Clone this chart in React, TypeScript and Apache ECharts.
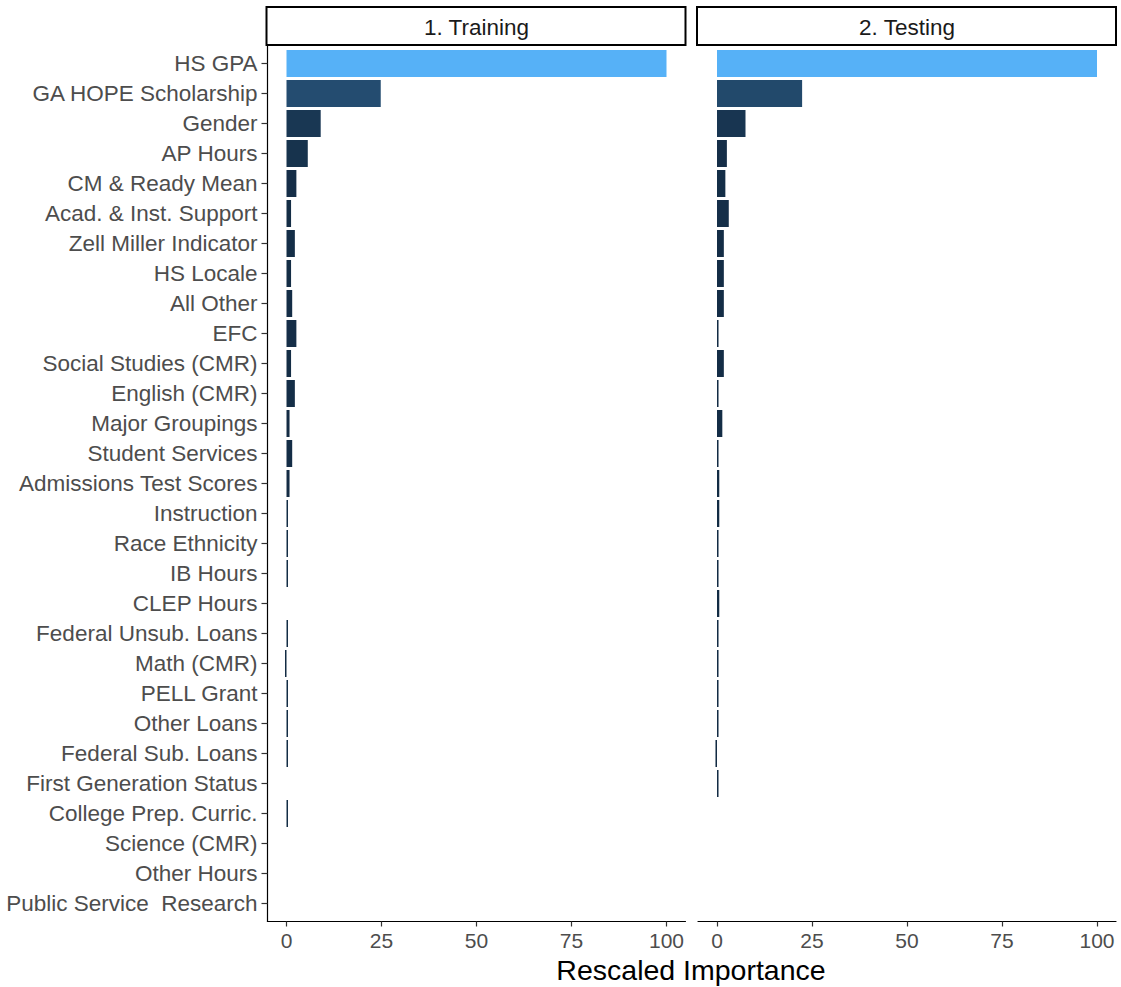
import React, { useEffect, useRef } from "react";
import * as echarts from "echarts";

const categories: string[] = [
  "HS GPA",
  "GA HOPE Scholarship",
  "Gender",
  "AP Hours",
  "CM & Ready Mean",
  "Acad. & Inst. Support",
  "Zell Miller Indicator",
  "HS Locale",
  "All Other",
  "EFC",
  "Social Studies (CMR)",
  "English (CMR)",
  "Major Groupings",
  "Student Services",
  "Admissions Test Scores",
  "Instruction",
  "Race Ethnicity",
  "IB Hours",
  "CLEP Hours",
  "Federal Unsub. Loans",
  "Math (CMR)",
  "PELL Grant",
  "Other Loans",
  "Federal Sub. Loans",
  "First Generation Status",
  "College Prep. Curric.",
  "Science (CMR)",
  "Other Hours",
  "Public Service  Research",
];

const trainingValues: number[] = [
  100, 24.8, 9.0, 5.6, 2.6, 1.2, 2.2, 1.2, 1.5, 2.6, 1.2, 2.2, 0.8, 1.5, 0.8,
  0.4, 0.4, 0.4, 0, 0.4, -0.4, 0.4, 0.4, 0.4, 0, 0.4, 0, 0, 0,
];

const testingValues: number[] = [
  100, 22.4, 7.5, 2.6, 2.2, 3.1, 1.8, 1.8, 1.8, 0.4, 1.8, 0.4, 1.4, 0.4, 0.6,
  0.6, 0.4, 0.4, 0.6, 0.4, 0.4, 0.4, 0.4, -0.4, 0.4, 0, 0, 0, 0,
];

const panelTitles: string[] = ["1. Training", "2. Testing"];
const xTicks: number[] = [0, 25, 50, 75, 100];
const xTitle = "Rescaled Importance";

const LOW = [0x13, 0x2b, 0x43];
const HIGH = [0x56, 0xb1, 0xf7];
function gradColor(v: number): string {
  const t = Math.max(0, Math.min(1, v / 100));
  const c = LOW.map((l, i) => Math.round(l + (HIGH[i] - l) * t));
  return `rgb(${c[0]},${c[1]},${c[2]})`;
}

const FONT = "'Liberation Sans', Arial, sans-serif";

export default function App() {
  const ref = useRef<HTMLDivElement>(null);

  useEffect(() => {
    if (!ref.current) return;
    const chart = echarts.init(ref.current, undefined, { renderer: "svg" });

    const panelTop = 45.5;
    const panelBottom = 921.5;
    const grids = [
      { left: 267.5, top: 48.5, width: 418, height: 870 },
      { left: 698, top: 48.5, width: 418, height: 870 },
    ];

    const xAxes = grids.map((_, i) => ({
      type: "value",
      gridIndex: i,
      min: -5,
      max: 105,
      offset: 3,
      splitLine: { show: false },
      axisLine: {
        show: true,
        onZero: false,
        lineStyle: { color: "#000", width: 1.2 },
      },
      axisTick: {
        show: true,
        length: 5,
        customValues: xTicks,
        lineStyle: { color: "#333", width: 1.2 },
      },
      axisLabel: {
        customValues: xTicks,
        fontSize: 21,
        color: "#4D4D4D",
        fontFamily: FONT,
        margin: 8,
      },
    }));

    const yAxes = grids.map((_, i) => ({
      type: "category",
      gridIndex: i,
      data: categories,
      inverse: true,
      axisLine: { show: false, onZero: false },
      axisTick: {
        show: i === 0,
        alignWithLabel: true,
        length: 6,
        lineStyle: { color: "#333", width: 1.2 },
      },
      axisLabel: {
        show: i === 0,
        fontSize: 22.5,
        color: "#4D4D4D",
        fontFamily: FONT,
        margin: 10,
      },
      splitLine: { show: false },
    }));

    const mkSeries = (vals: number[], i: number) => ({
      type: "bar",
      xAxisIndex: i,
      yAxisIndex: i,
      barWidth: "90%",
      data: vals.map((v) => ({ value: v, itemStyle: { color: gradColor(v) } })),
    });

    const graphics: any[] = [];
    grids.forEach((g, i) => {
      graphics.push({
        type: "rect",
        shape: { x: g.left - 1, y: 7, width: g.width + 1, height: 38 },
        style: { fill: "#fff", stroke: "#000", lineWidth: 2 },
      });
      graphics.push({
        type: "text",
        x: g.left + g.width / 2,
        y: 27,
        style: {
          text: panelTitles[i],
          fontSize: 22.5,
          fontFamily: FONT,
          fill: "#1A1A1A",
          textAlign: "center",
          textVerticalAlign: "middle",
        },
      });
    });
    graphics.push({
      type: "line",
      shape: {
        x1: grids[0].left,
        y1: panelTop,
        x2: grids[0].left,
        y2: panelBottom + 0.6,
      },
      style: { stroke: "#000", lineWidth: 1.2 },
    });
    graphics.push({
      type: "text",
      x: 691,
      y: 970,
      style: {
        text: xTitle,
        fontSize: 28.5,
        fontFamily: FONT,
        fill: "#000",
        textAlign: "center",
        textVerticalAlign: "middle",
      },
    });

    chart.setOption({
      animation: false,
      backgroundColor: "#fff",
      grid: grids,
      xAxis: xAxes,
      yAxis: yAxes,
      series: [mkSeries(trainingValues, 0), mkSeries(testingValues, 1)],
      graphic: graphics,
    });

    return () => chart.dispose();
  }, []);

  return (
    <div
      ref={ref}
      style={{ position: "fixed", left: 0, top: 0, width: 1121, height: 987 }}
    />
  );
}
